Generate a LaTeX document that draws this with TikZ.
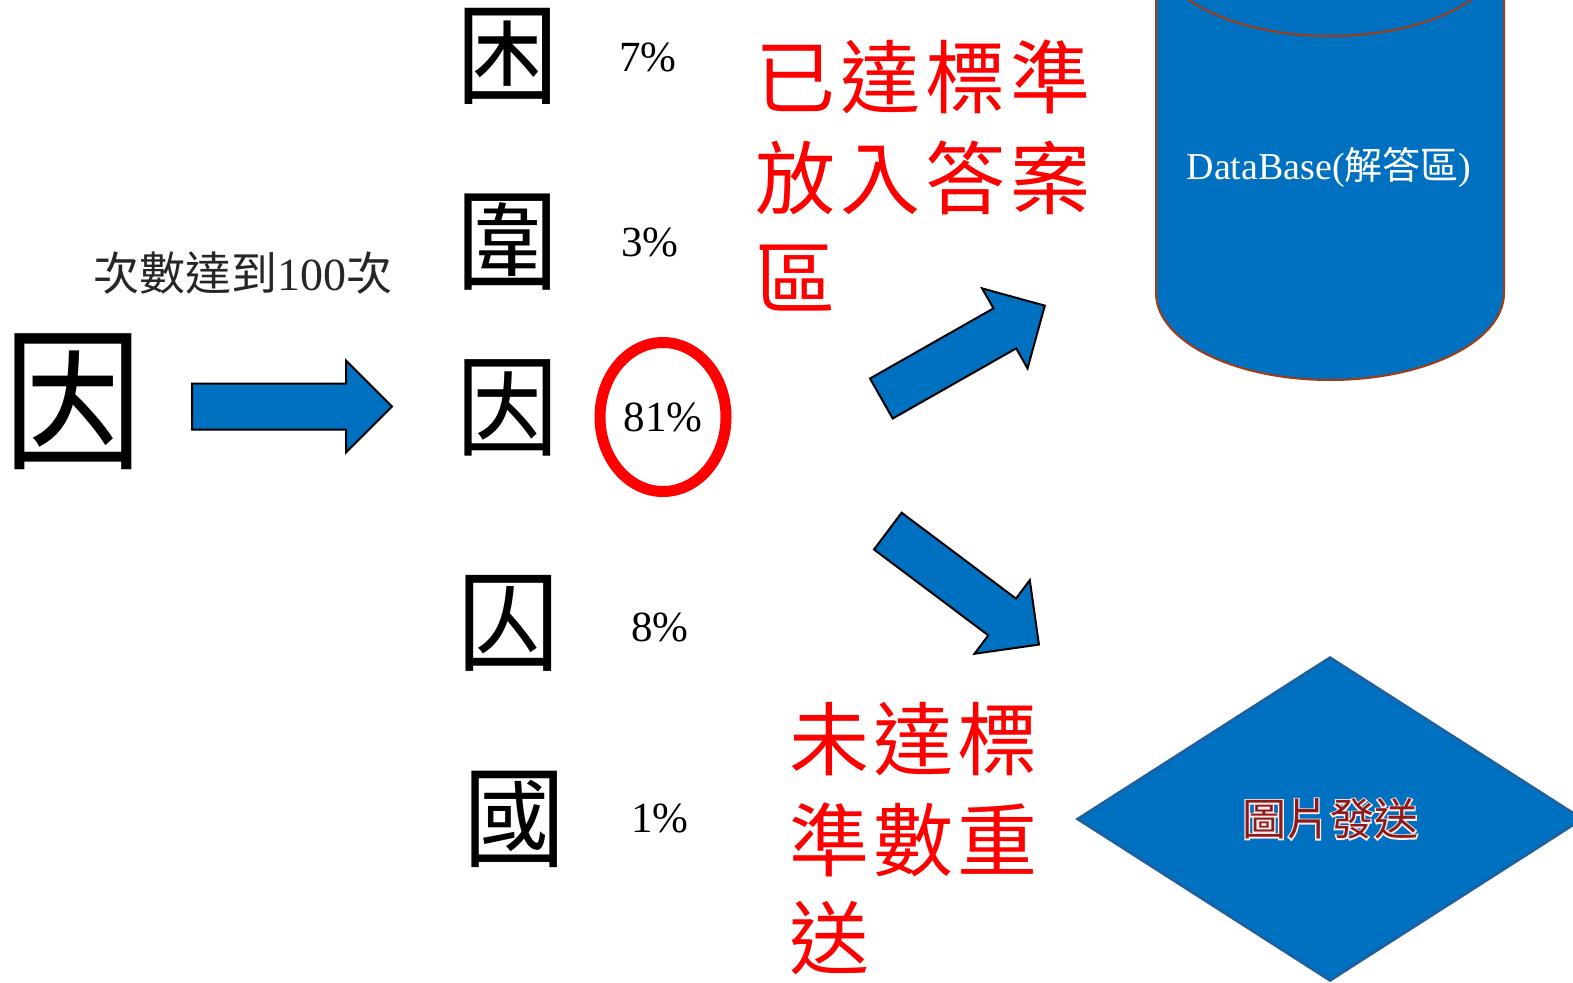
\documentclass[tikz,border=0pt]{standalone}
\usepackage{fontspec}
\usepackage{graphicx}
\setmainfont{Liberation Serif}
\newfontfamily\cjk{Noto Sans CJK TC}
\newfontfamily\cjkhalo[FakeBold=6]{Noto Sans CJK TC}
\usetikzlibrary{shapes.geometric,shapes.arrows}
\definecolor{pptblue}{HTML}{0070C0}
\definecolor{rust}{HTML}{A33B12}
\definecolor{darkred}{HTML}{8B1A1A}
\definecolor{diaborder}{HTML}{1F5F9F}
\begin{document}
\begin{tikzpicture}[x=1pt,y=-1pt,
  blockarrow/.style={single arrow, draw=black, line width=2pt, fill=pptblue,
    inner xsep=0pt, inner ysep=22pt, single arrow head extend=23pt,
    minimum width=90pt, anchor=tail},
  boxchar/.style={inner sep=0pt, font=\cjk\fontsize{110}{120}\selectfont, xscale=0.93},
  pct/.style={inner sep=0pt, font=\fontsize{43}{48}\selectfont},
  redtxt/.style={inner sep=0pt, anchor=west, text=red, font=\cjk\fontsize{80}{90}\selectfont},
]
\useasboundingbox (0,0) rectangle (1573,982);
\clip (0,0) rectangle (1573,982);

% source character
\node[inner sep=0pt, font=\cjk\fontsize{155}{160}\selectfont, xscale=0.9] (src) at (73,402) {因};

% label
\node[inner sep=0pt, text=black!85, font=\fontsize{46}{50}\selectfont] (count) at (243,273) {{\cjk 次數達到}100{\cjk 次}};

% right arrow
\node[blockarrow, minimum height=200pt] (arr1) at (191,406.5) {};

% candidates
\node[boxchar] (c1) at (508,56) {困};
\node[boxchar] (c2) at (508,242) {圍};
\node[boxchar] (c3) at (508,408) {因};
\node[boxchar] (c4) at (509,623) {囚};
\node[boxchar] (c5) at (515,819) {國};

\node[pct] (p1) at (648,57) {7\%};
\node[pct] (p2) at (650,242) {3\%};
\node[pct] (p3) at (663,417) {81\%};
\node[pct] (p4) at (660,627) {8\%};
\node[pct] (p5) at (660,818) {1\%};

% red ellipse
\draw[red, line width=11pt] (p3.center) ellipse [x radius=63pt, y radius=74.5pt];

% red texts
\node[redtxt] (ra1) at (755,77) {已\hspace{5pt}達\hspace{5pt}標\hspace{5pt}準};
\node[redtxt] (ra2) at (755,178) {放\hspace{5pt}入\hspace{5pt}答\hspace{5pt}案};
\node[redtxt] (ra3) at (755,278) {區};
\node[redtxt] (rb1) at (789,739) {未\hspace{4pt}達\hspace{4pt}標};
\node[redtxt] (rb2) at (789,840) {準\hspace{4pt}數\hspace{4pt}重};
\node[redtxt] (rb3) at (789,938) {送};

% diagonal arrows
\node[blockarrow, minimum height=188pt, rotate=29.6] (arr2) at (880.5,399) {};
\node[blockarrow, minimum height=189pt, rotate=-36.9] (arr3) at (887,530.5) {};

% database cylinder
\fill[pptblue] (1156,-51) -- (1156,293) arc[start angle=180, end angle=360, x radius=174pt, y radius=87pt] -- (1504,-51) -- cycle;
\draw[rust, line width=2pt] (1156,-51) -- (1156,293) arc[start angle=180, end angle=360, x radius=174pt, y radius=87pt] -- (1504,-51);
\draw[rust, line width=2pt] (1330,-51) ellipse [x radius=174pt, y radius=87pt];
\node[inner sep=0pt, text=white, font=\fontsize{38}{44}\selectfont] (db) at (1329,167) {DataBase({\cjk 解答區})};

% diamond
\node[diamond, draw=diaborder, line width=2.5pt, fill=pptblue, minimum width=506pt, minimum height=324pt, inner sep=0pt, aspect=1.56] (send) at (1330,819) {};
\node[inner sep=0pt, text=white!92!red, font=\cjkhalo\fontsize{44}{50}\selectfont] (sendhalo) at (send.center) {圖片發送};
\node[inner sep=0pt, text=darkred, font=\cjk\fontsize{44}{50}\selectfont] (sendtxt) at (send.center) {圖片發送};
\end{tikzpicture}
\end{document}
